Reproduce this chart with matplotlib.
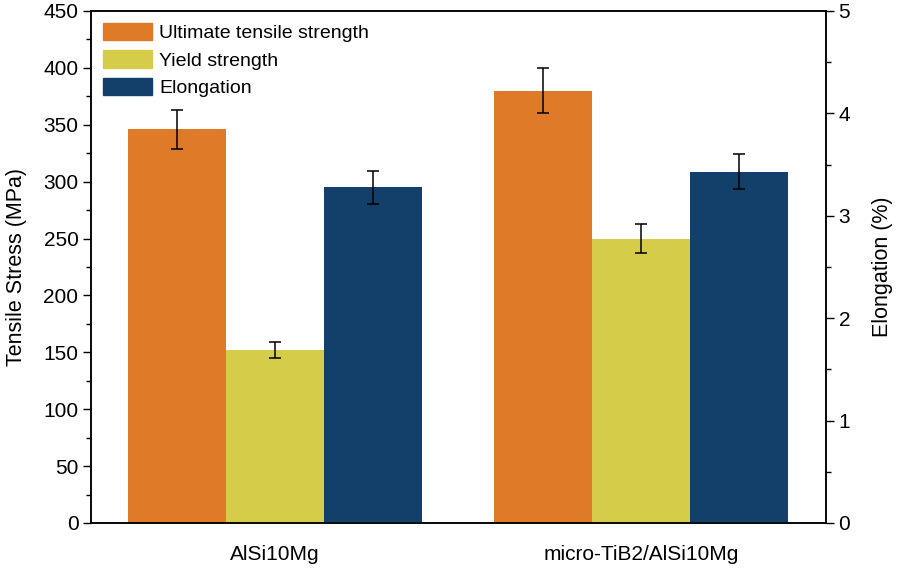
import numpy as np
import matplotlib
matplotlib.use("Agg")
import matplotlib.pyplot as plt
from matplotlib.patches import Patch
from matplotlib.ticker import MultipleLocator

plt.rcParams["font.family"] = ["Liberation Sans", "DejaVu Sans"]

# data
materials = ["AlSi10Mg", "micro-TiB2/AlSi10Mg"]
uts = [346, 380]          # MPa
uts_err = [17, 20]
ys = [152, 250]           # MPa
ys_err = [7, 13]
elong = [3.28, 3.43]      # %
elong_err = [0.16, 0.17]

c_uts = "#DF7A29"
c_ys = "#D5CD4A"
c_el = "#12406B"

fig = plt.figure(figsize=(8.98, 5.68), dpi=100)
ax = fig.add_axes([91 / 898, 1 - 523 / 568, 735 / 898, 512 / 568])
ax2 = ax.twinx()

x = np.arange(len(materials))
w = 0.268
ekw = dict(ecolor="black", elinewidth=1.1, capsize=4.5, capthick=1.1)

ax.bar(x - w, uts, w, yerr=uts_err, color=c_uts, error_kw=ekw)
ax.bar(x, ys, w, yerr=ys_err, color=c_ys, error_kw=ekw)
ax2.bar(x + w, elong, w, yerr=elong_err, color=c_el, error_kw=ekw)

ax.set_xlim(-0.503, 1.505)
ax.set_ylim(0, 450)
ax2.set_ylim(0, 5)
ax.set_xticks(x)
ax.set_xticklabels(materials, fontsize=15)
ax.tick_params(axis="x", length=0, pad=16)

ax.yaxis.set_major_locator(MultipleLocator(50))
ax.yaxis.set_minor_locator(MultipleLocator(25))
ax2.yaxis.set_major_locator(MultipleLocator(1))
ax2.yaxis.set_minor_locator(MultipleLocator(0.5))
for a in (ax, ax2):
    a.tick_params(axis="y", which="major", length=6, width=1, labelsize=15,
                  direction="out", pad=3)
    a.tick_params(axis="y", which="minor", length=3.5, width=1, direction="out")
    for s in a.spines.values():
        s.set_linewidth(1.1)

ax.set_ylabel("Tensile Stress (MPa)", fontsize=15.5, labelpad=12)
ax2.set_ylabel("Elongation (%)", fontsize=15.5, labelpad=16)

handles = [Patch(color=c_uts), Patch(color=c_ys), Patch(color=c_el)]
labels = ["Ultimate tensile strength", "Yield strength", "Elongation"]
ax2.legend(handles, labels, loc="upper left", frameon=False, fontsize=14,
           handlelength=2.55, handleheight=1.0, handletextpad=0.35,
           labelspacing=0.42, borderaxespad=0.2, bbox_to_anchor=(0.0, 1.0))

fig.savefig("out.png", dpi=100)
